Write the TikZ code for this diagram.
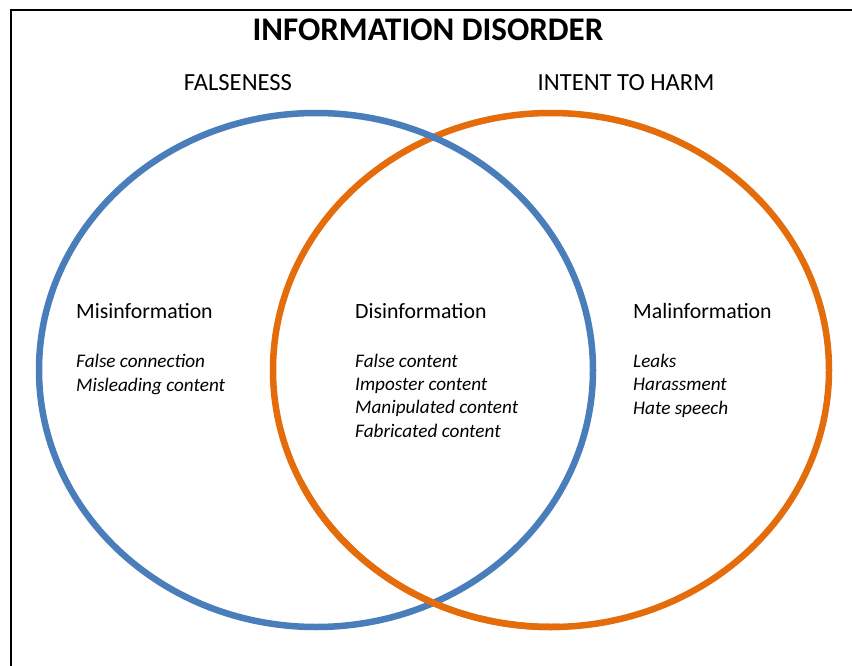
\documentclass[tikz,border=0pt]{standalone}
\usepackage{fontspec}
\setmainfont{Carlito}
\usepackage{tikz}

\definecolor{falseblue}{HTML}{4A7EBB}
\definecolor{harmorange}{HTML}{E46C0A}

\tikzset{
  heading/.style={anchor=base west, inner sep=0pt, font=\fontsize{21.8}{24}\selectfont},
  examples/.style={anchor=base west, inner sep=0pt, align=left, font=\fontsize{19.2}{23.2}\selectfont\itshape},
  setlabel/.style={anchor=base, inner sep=0pt, font=\fontsize{24.6}{28}\selectfont},
  ring/.style={line width=6.5pt}
}

\begin{document}
\begin{tikzpicture}[x=1pt, y=-1pt]
                \useasboundingbox (0,0) rectangle (852,666);
                % Frame
                \draw[line width=1.8pt] (11,666) -- (11,10) -- (852,10);

                % Title
                \node[anchor=base, inner sep=0pt, font=\fontsize{33}{36}\selectfont\bfseries] (title) at (428,41) {INFORMATION DISORDER};

                % Set labels
                \node[setlabel] (falseness) at (238,91) {FALSENESS};
                \node[setlabel] (harm) at (626,91) {INTENT TO HARM};

                % Circles (blue over orange at the top, orange over blue at the bottom)
                \draw[ring, harmorange] (551,370) ellipse [x radius=278pt, y radius=257pt];
                \draw[ring, falseblue] (316,370) ellipse [x radius=277pt, y radius=257pt];
                \begin{scope}
                    \clip (300,480) rectangle (560,666);
                    \draw[ring, harmorange] (551,370) ellipse [x radius=278pt, y radius=257pt];
                \end{scope}

                % Misinformation (examples placed by the baseline of their last line)
                \node[heading] (mis) at (76,318) {Misinformation};
                \node[examples] (misex) at (76,391) {False connection\\Misleading content};

                % Disinformation
                \node[heading] (dis) at (355,318) {Disinformation};
                \node[examples] (disex) at (355,437) {False content\\Imposter content\\Manipulated content\\Fabricated content};

                % Malinformation
                \node[heading] (mal) at (633,318) {Malinformation};
                \node[examples] (malex) at (633,414) {Leaks\\Harassment\\Hate speech};
\end{tikzpicture}
\end{document}
